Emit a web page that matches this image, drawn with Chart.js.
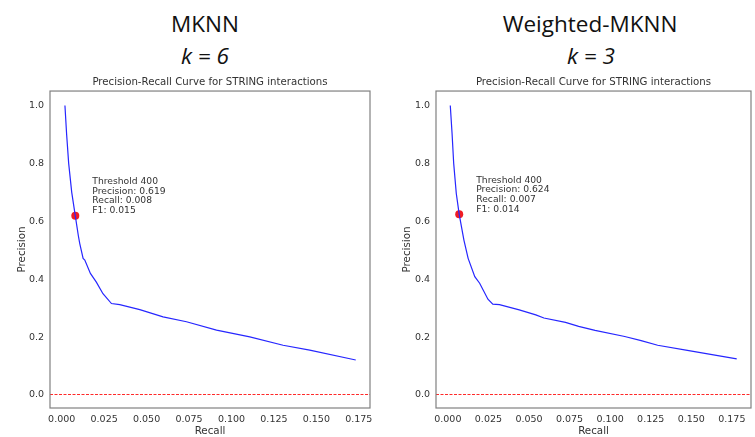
<!DOCTYPE html>
<html>
<head>
<meta charset="utf-8">
<script src="https://cdn.jsdelivr.net/npm/chart.js@4.4.0/dist/chart.umd.min.js"></script>
<style>
  body { margin: 0; background: #fff; width: 755px; height: 437px; position: relative; overflow: hidden; font-family: "Open Sans", sans-serif; }
  .cabecera { position: absolute; width: 300px; text-align: center; font-size: 22.5px; line-height: 22px; color: #111; }
  .k { font-style: italic; }
  canvas { position: absolute; top: 70px; }
</style>
</head>
<body>
<div class="cabecera" style="left:55px;top:13px">MKNN</div>
<div class="cabecera k" style="left:55px;top:45px">k = 6</div>
<div class="cabecera" style="left:440px;top:13px">Weighted-MKNN</div>
<div class="cabecera k" style="left:441px;top:45px">k = 3</div>
<canvas id="graficoMknn" width="380" height="367" style="left:0"></canvas>
<canvas id="graficoWeighted" width="375" height="367" style="left:380px"></canvas>
<script>
// Curva precision-recall, MKNN (k = 6)
const recallMknn = [0.0019, 0.0029, 0.0041, 0.0059, 0.008, 0.0098, 0.0106, 0.0126, 0.0136, 0.0169, 0.0204, 0.0243, 0.0293, 0.0342, 0.046, 0.0597, 0.0735, 0.0912, 0.1108, 0.1304, 0.1461, 0.1732];
const precisionMknn = [1.0, 0.9, 0.8, 0.7, 0.619, 0.55, 0.524, 0.472, 0.466, 0.42, 0.39, 0.35, 0.316, 0.312, 0.295, 0.27, 0.253, 0.224, 0.201, 0.172, 0.155, 0.121];

// Curva precision-recall, Weighted-MKNN (k = 3)
const recallWeighted = [0.0015, 0.0026, 0.0036, 0.0052, 0.007, 0.0099, 0.0125, 0.0166, 0.0196, 0.0247, 0.0277, 0.0318, 0.044, 0.0542, 0.0592, 0.0725, 0.0806, 0.0907, 0.109, 0.1191, 0.1293, 0.1476, 0.178];
const precisionWeighted = [1.0, 0.903, 0.8, 0.696, 0.624, 0.535, 0.472, 0.409, 0.386, 0.331, 0.314, 0.312, 0.294, 0.277, 0.266, 0.251, 0.237, 0.223, 0.202, 0.188, 0.172, 0.154, 0.125];

// Punto del umbral 400: [recall, precision, f1]
const umbralMknn = [0.008, 0.619, 0.015];
const umbralWeighted = [0.007, 0.624, 0.014];

// Linea base (proporcion de positivos)
const lineaBase = 0.005;

const ticksX = [0, 0.025, 0.05, 0.075, 0.1, 0.125, 0.15, 0.175];
const ticksY = [0, 0.2, 0.4, 0.6, 0.8, 1.0];

const fuente = 'DejaVu Sans';
const grisTexto = '#333';

// Marco del area de datos, linea base discontinua y texto del umbral
const marcoYNota = {
    id: 'marcoYNota',
    beforeDatasetsDraw(chart) {
        const { ctx, chartArea: a, scales } = chart;
        const yb = Math.round(scales.y.getPixelForValue(lineaBase)) + 0.5;
        ctx.save();
        ctx.strokeStyle = '#ff2a2a';
        ctx.lineWidth = 1;
        ctx.setLineDash([3, 1.5]);
        ctx.beginPath();
        ctx.moveTo(a.left, yb);
        ctx.lineTo(a.right, yb);
        ctx.stroke();
        ctx.restore();
    },
    afterDatasetsDraw(chart, args, opts) {
        const { ctx, chartArea: a, scales } = chart;
        ctx.save();
        ctx.strokeStyle = '#808080';
        ctx.lineWidth = 1.2;
        ctx.strokeRect(a.left, a.top, a.width, a.height);

        const px = scales.x.getPixelForValue(opts.punto[0]);
        const py = scales.y.getPixelForValue(opts.punto[1]);
        const lineas = [
            'Threshold 400',
            `Precision: ${opts.punto[1].toFixed(3)}`,
            `Recall: ${opts.punto[0].toFixed(3)}`,
            `F1: ${opts.punto[2].toFixed(3)}`
        ];
        ctx.fillStyle = grisTexto;
        ctx.font = `9.2px "${fuente}"`;
        ctx.textBaseline = 'middle';
        lineas.forEach((t, i) => ctx.fillText(t, px + 17, py - 34 + i * 9.6));
        ctx.restore();
    }
};

function crearGrafico(id, recall, precision, punto, cfg) {
    const ctx = document.getElementById(id).getContext('2d');
    return new Chart(ctx, {
        type: 'scatter',
        data: {
            datasets: [
                {
                    data: recall.map((r, i) => ({ x: r, y: precision[i] })),
                    showLine: true,
                    borderColor: '#2626ff',
                    borderWidth: 1.2,
                    pointRadius: 0,
                    tension: 0,
                    order: 0
                },
                {
                    data: [{ x: punto[0], y: punto[1] }],
                    backgroundColor: '#f01c24',
                    borderWidth: 0,
                    pointRadius: 4,
                    order: 1
                }
            ]
        },
        options: {
            responsive: false,
            animation: false,
            layout: { padding: { left: 0, right: cfg.derecha, top: 0, bottom: 0 } },
            plugins: {
                legend: { display: false },
                tooltip: { enabled: false },
                title: {
                    display: true,
                    text: 'Precision-Recall Curve for STRING interactions',
                    fullSize: false,
                    color: grisTexto,
                    font: { family: fuente, size: 10.2, weight: 'normal' },
                    padding: { top: 5.9, bottom: 2.9 }
                },
                marcoYNota: { punto: punto }
            },
            scales: {
                x: {
                    type: 'linear',
                    min: cfg.xMin,
                    max: cfg.xMax,
                    afterBuildTicks: ax => { ax.ticks = ticksX.map(v => ({ value: v })); },
                    afterFit: ax => { ax.height = 29; },
                    grid: { display: false, drawTicks: false },
                    border: { display: false },
                    ticks: {
                        callback: v => Number(v).toFixed(3),
                        color: grisTexto,
                        font: { family: fuente, size: 9.5 },
                        padding: 6,
                        maxRotation: 0,
                        autoSkip: false
                    },
                    title: {
                        display: true,
                        text: 'Recall',
                        color: grisTexto,
                        font: { family: fuente, size: 10.3 },
                        padding: { top: 0, bottom: -1 }
                    }
                },
                y: {
                    type: 'linear',
                    min: -0.0448,
                    max: 1.0498,
                    afterBuildTicks: ax => { ax.ticks = ticksY.map(v => ({ value: v })); },
                    afterFit: ax => { ax.width = cfg.anchoEjeY; },
                    grid: { display: false, drawTicks: false },
                    border: { display: false },
                    ticks: {
                        callback: v => Number(v).toFixed(1),
                        color: grisTexto,
                        font: { family: fuente, size: 9.5 },
                        padding: 6
                    },
                    title: {
                        display: true,
                        text: 'Precision',
                        color: grisTexto,
                        font: { family: fuente, size: 10.3 },
                        padding: { top: cfg.tituloY, bottom: 0 }
                    }
                }
            }
        },
        plugins: [marcoYNota]
    });
}

crearGrafico('graficoMknn', recallMknn, precisionMknn, umbralMknn,
    { xMin: -0.0069, xMax: 0.1816, anchoEjeY: 50, derecha: 10, tituloY: 16.5 });
crearGrafico('graficoWeighted', recallWeighted, precisionWeighted, umbralWeighted,
    { xMin: -0.0073, xMax: 0.1868, anchoEjeY: 56, derecha: 1, tituloY: 21.5 });
</script>
</body>
</html>
